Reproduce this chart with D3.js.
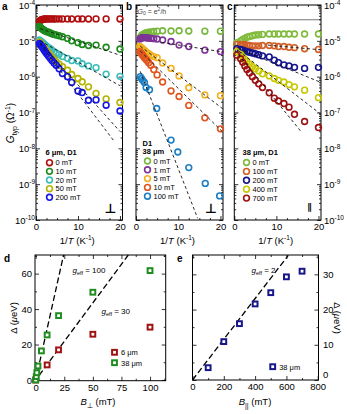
<!DOCTYPE html>
<html><head><meta charset="utf-8">
<script src="https://d3js.org/d3.v7.min.js"></script>
<style>body{margin:0;background:#fff}svg{display:block}</style>
</head><body><script>
// ---------- DATA ----------
const G0 = 3.874e-5; // e^2/h (Ω^-1)
const logExps = [-10,-9,-8,-7,-6,-5,-4];
const xTickMajor = [0,10,20];
const xTickMinor = [2.5,5,7.5,12.5,15,17.5];

// panel a : 6 µm, D1, perpendicular field
const aInvT = [0.8,1.0,1.2,1.4,1.6,1.8,2.0,2.3,2.6,3.0,3.4,3.8,4.3,4.8,5.5,6.3,7.5,8.5,10,11,12.5,14.3,16.7,20];
const a0mT = [3.55e-5,3.72e-5,3.8e-5,3.89e-5,3.98e-5,4.0e-5,4.05e-5,4.07e-5,4.1e-5,4.1e-5,4.1e-5,4.1e-5,4.08e-5,4.1e-5,4.1e-5,4.08e-5,4.1e-5,4.08e-5,4.1e-5,4.1e-5,4.08e-5,4.1e-5,4.1e-5,4.08e-5];
const a10mT = [2.51e-5,2.40e-5,2.29e-5,2.19e-5,2.09e-5,2.0e-5,1.95e-5,1.86e-5,1.80e-5,1.74e-5,1.66e-5,1.58e-5,1.51e-5,1.45e-5,1.38e-5,1.30e-5,1.17e-5,1.0e-5,8.9e-6,7.9e-6,7.4e-6,7.6e-6,6.6e-6,5.9e-6];
const a20mT = [1.05e-5,1.0e-5,9.55e-6,9.12e-6,8.71e-6,8.32e-6,7.94e-6,7.41e-6,6.92e-6,6.46e-6,6.03e-6,5.50e-6,5.01e-6,4.57e-6,4.17e-6,3.63e-6,3.24e-6,2.82e-6,2.75e-6,2.29e-6,2.0e-6,1.78e-6,1.17e-6,1.02e-6];
const a50mT = [9.33e-6,8.71e-6,8.13e-6,7.59e-6,7.08e-6,6.61e-6,6.17e-6,5.62e-6,5.13e-6,4.57e-6,3.98e-6,3.47e-6,3.02e-6,2.63e-6,2.24e-6,1.91e-6,1.51e-6,1.15e-6,8.9e-7,7.2e-7,5.2e-7,3.4e-7,2.4e-7,1.9e-7];
const a200mT = [8.51e-6,7.94e-6,7.41e-6,6.92e-6,6.46e-6,5.89e-6,5.37e-6,4.79e-6,4.27e-6,3.72e-6,3.24e-6,2.82e-6,2.40e-6,2.09e-6,1.66e-6,1.23e-6,1.0e-6,6.9e-7,4.0e-7,3.6e-7,2.2e-7,2.25e-7,1.6e-7,1.1e-7];
const aFit10 = [[1,2.19e-5],[20,3.98e-6]];
const aFit20 = [[1,1.0e-5],[20,5.6e-7]];
const aFit50 = [[1,8.7e-6],[20,2.95e-8]];
const aFit200 = [[1,8.1e-6],[18.4,1.7e-8]];

// panel b : 38 µm, D1, perpendicular field
const bInvT = [0.9,1.1,1.3,1.5,1.7,2.0,2.3,2.6,3.0,3.5,4.2,5.0,6.3,8.3,10.2,12.5,16.3,20];
const b0mT = [1.17e-5,1.29e-5,1.38e-5,1.45e-5,1.51e-5,1.58e-5,1.66e-5,1.70e-5,1.74e-5,1.78e-5,1.82e-5,1.86e-5,1.91e-5,1.88e-5,1.91e-5,1.88e-5,1.86e-5,1.86e-5];
const b1mT = [1.12e-5,1.17e-5,1.20e-5,1.23e-5,1.23e-5,1.23e-5,1.23e-5,1.20e-5,1.20e-5,1.17e-5,1.15e-5,1.12e-5,1.05e-5,9.55e-6,7.59e-6,6.92e-6,5.50e-6,5.01e-6];
const b5mT = [6.92e-6,6.61e-6,6.31e-6,6.03e-6,5.75e-6,5.37e-6,5.01e-6,4.68e-6,4.37e-6,3.98e-6,3.63e-6,3.39e-6,2.40e-6,1.70e-6,1.05e-6,4.9e-7,3.1e-7,2.95e-7];
const b10mT = [5.01e-6,4.68e-6,4.37e-6,4.07e-6,3.80e-6,3.39e-6,3.09e-6,2.82e-6,2.45e-6,2.09e-6,1.58e-6,1.12e-6,7.1e-7,4.0e-7,2.8e-7,1.58e-7,7.1e-8,3.5e-8];
const bInvT100 = [1.0,1.3,1.6,2.0,2.4,3.2,4.9,8.3,9.9,12.5,16.4,19.8];
const b100mT = [1.0e-6,8.9e-7,7.9e-7,6.9e-7,5.0e-7,4.3e-7,1.29e-7,1.7e-8,7.9e-9,2.9e-9,1.05e-9,4.7e-10];
const bFit1 = [[6,9.1e-6],[20.6,4.9e-6]];
const bFit5 = [[1,7.1e-6],[20.6,1.26e-7]];
const bFit10 = [[1,5.2e-6],[20.6,2.8e-8]];
const bFit100 = [[1,1.41e-6],[14.6,1.12e-10]];

// panel c : 38 µm, D1, parallel field
const cInvT = [0.6,1.5,2.0,2.5,3.0,3.6,4.3,5.0,5.8,6.7,8.3,9.5,10.5,11.8,13,14.3,16.7,20];
const c0mT = [8.9e-6,1.0e-5,1.10e-5,1.17e-5,1.26e-5,1.32e-5,1.38e-5,1.45e-5,1.48e-5,1.51e-5,1.55e-5,1.55e-5,1.55e-5,1.55e-5,1.55e-5,1.55e-5,1.55e-5,1.55e-5];
const c100mT = [7.94e-6,7.94e-6,7.94e-6,7.76e-6,7.59e-6,7.41e-6,7.24e-6,7.24e-6,7.24e-6,7.41e-6,7.41e-6,7.24e-6,6.92e-6,6.92e-6,6.61e-6,6.46e-6,6.03e-6,5.75e-6];
const c200mT = [6.03e-6,5.75e-6,5.50e-6,5.25e-6,5.01e-6,4.79e-6,4.57e-6,4.37e-6,4.07e-6,3.80e-6,3.55e-6,2.88e-6,2.45e-6,2.14e-6,2.0e-6,1.82e-6,1.70e-6,1.82e-6];
const c400mT = [5.01e-6,4.17e-6,3.55e-6,3.02e-6,2.63e-6,2.24e-6,1.91e-6,1.66e-6,1.45e-6,1.20e-6,1.05e-6,8.9e-7,7.9e-7,7.1e-7,6.0e-7,5.2e-7,4.2e-7,2.6e-7];
const c700mT = [3.98e-6,3.16e-6,2.51e-6,2.0e-6,1.58e-6,1.26e-6,1.0e-6,7.9e-7,6.3e-7,5.0e-7,3.55e-7,2.51e-7,2.09e-7,1.78e-7,1.41e-7,8.9e-8,5.6e-8,3.8e-8];
const cFit100 = [[8,7.6e-6],[20.6,5.6e-6]];
const cFit200 = [[1,6.0e-6],[20.6,6.9e-7]];
const cFit400 = [[1,5.25e-6],[20.6,8.9e-8]];
const cFit700 = [[1,4.17e-6],[16,2.8e-8]];

// panel d : gap vs perpendicular field
const d6B = [0,10,20,50,100];
const d6Gap = [0,8.5,17,25.8,29.8];
const d38B = [0,0.5,1,2,5,10,20,50,100];
const d38Gap = [0,1.9,4.1,7.9,16.4,25.4,36.3,49.5,61.7];
const dLine100 = [[0,0],[24.4,70.5]];
const dLine30 = [[3,2.6],[81,70.5]];
const dXTicks = [0,25,50,75,100];
const dYTicks = [0,20,40,60];

// panel e : gap vs parallel field
const eB = [100,200,300,400,500,600,700];
const eGap = [3.5,10.9,16,21.6,24.8,29.3,30.9];
const eLine2 = [[0,0],[612,35.4]];
const eXTicks = [0,200,400,600,800];
const eYTicks = [0,10,20,30];

// ---------- DRAW ----------
const FONT = "'Liberation Sans', Arial, Helvetica, sans-serif";
const svg = d3.select("body").append("svg").attr("width",347).attr("height",414)
  .style("font-family",FONT);

function cleanAxis(s){ s.select(".domain").remove(); s.selectAll("line").attr("stroke","#000").attr("stroke-width",0.8); s.selectAll("text").attr("font-family",FONT); }

const yTop = 5, yBot = 220;
function logPanel(o){
  const g = svg.append("g");
  const x = d3.scaleLinear().domain([0,20.6]).range([o.x0,o.x1]);
  const y = d3.scaleLog().domain([1e-10,1e-4]).range([yBot,yTop]);
  const major = logExps.map(e=>Math.pow(10,e));
  const minor = [];
  logExps.forEach(e=>{ if(e< -4) for(let k=2;k<10;k++) minor.push(k*Math.pow(10,e)); });

  if(o.g0){
    g.append("line").attr("x1",o.x0).attr("x2",o.x1).attr("y1",y(G0)).attr("y2",y(G0))
      .attr("stroke","#666").attr("stroke-width",0.9);
  }
  [[d3.axisLeft,o.x0],[d3.axisRight,o.x1]].forEach(([ax,pos])=>{
    g.append("g").attr("transform",`translate(${pos},0)`).call(ax(y).tickValues(major).tickSize(-4).tickFormat("")).call(cleanAxis);
    g.append("g").attr("transform",`translate(${pos},0)`).call(ax(y).tickValues(minor).tickSize(-2).tickFormat("")).call(cleanAxis);
  });
  const xb = g.append("g").attr("transform",`translate(0,${yBot})`).call(d3.axisBottom(x).tickValues(xTickMajor).tickSize(-4).tickPadding(3)).call(cleanAxis);
  xb.selectAll("text").attr("font-size",9.5).attr("fill","#000");
  g.append("g").attr("transform",`translate(0,${yBot})`).call(d3.axisBottom(x).tickValues(xTickMinor).tickSize(-2).tickFormat("")).call(cleanAxis);
  g.append("g").attr("transform",`translate(0,${yTop})`).call(d3.axisTop(x).tickValues(xTickMajor).tickSize(-4).tickFormat("")).call(cleanAxis);
  g.append("g").attr("transform",`translate(0,${yTop})`).call(d3.axisTop(x).tickValues(xTickMinor).tickSize(-2).tickFormat("")).call(cleanAxis);
  g.append("rect").attr("x",o.x0).attr("y",yTop).attr("width",o.x1-o.x0).attr("height",yBot-yTop)
    .attr("fill","none").attr("stroke","#000").attr("stroke-width",1);
  if(o.labels){
    logExps.forEach(e=>{
      const t = g.append("text").attr("x", o.labels==="left"? o.x0-1 : o.x1+3).attr("y", y(Math.pow(10,e))+3.8)
        .attr("text-anchor", o.labels==="left"?"end":"start").attr("font-size",9.5);
      t.append("tspan").text("10");
      t.append("tspan").attr("dy",-3.6).attr("font-size",6.5).text(String(e));
    });
  }
  const xt = g.append("text").attr("x",(o.x0+o.x1)/2-2).attr("y",244).attr("text-anchor","middle").attr("font-size",9.5);
  xt.append("tspan").text("1/");
  xt.append("tspan").attr("font-style","italic").text("T");
  xt.append("tspan").text(" (K");
  xt.append("tspan").attr("dy",-4).attr("font-size",6.5).text("-1");
  xt.append("tspan").attr("dy",4).text(")");
  o.series.forEach(s=>{
    const pts = s.x.map((v,i)=>[v,s.y[i]]);
    g.append("g").selectAll("circle").data(pts).join("circle")
      .attr("cx",d=>x(d[0])).attr("cy",d=>y(d[1])).attr("r",2.9)
      .attr("fill","none").attr("stroke",s.color).attr("stroke-width",1.6);
  });
  const line = d3.line().x(d=>x(d[0])).y(d=>y(d[1]));
  o.fits.forEach(f=>{
    g.append("path").attr("d",line(f)).attr("fill","none").attr("stroke","#111")
      .attr("stroke-width",0.9).attr("stroke-dasharray","3,2.6");
  });
  const L = o.legend;
  L.header.forEach((h,i)=>{
    g.append("text").attr("x",L.hx).attr("y",L.hy+i*8+2.5).attr("font-size",7.5).attr("font-weight","bold").text(h);
  });
  o.series.forEach((s,i)=>{
    const cy = L.y0 + i*L.dy;
    g.append("circle").attr("cx",L.cx).attr("cy",cy).attr("r",2.9).attr("fill","none").attr("stroke",s.color).attr("stroke-width",1.6);
    g.append("text").attr("x",L.cx+6).attr("y",cy+2.7).attr("font-size",7.5).text(s.name);
  });
  g.append("text").attr("x",o.sym[0]).attr("y",o.sym[1]).attr("text-anchor","middle")
    .attr("font-size",o.symSize).attr("font-weight","bold").attr("font-family","DejaVu Sans").text(o.symText);
  return {x,y,g};
}

logPanel({x0:36,x1:122.5,labels:"left",g0:false,
  series:[
    {name:"0 mT",x:aInvT,y:a0mT,color:"#b00e0e"},
    {name:"10 mT",x:aInvT,y:a10mT,color:"#1c8a1c"},
    {name:"20 mT",x:aInvT,y:a20mT,color:"#3dbcbc"},
    {name:"50 mT",x:aInvT,y:a50mT,color:"#b4b400"},
    {name:"200 mT",x:aInvT,y:a200mT,color:"#1616e8"}],
  fits:[aFit10,aFit20,aFit50,aFit200],
  legend:{header:["6 μm, D1"],hx:45.5,hy:152.5,cx:49.5,y0:162.7,dy:8.65},
  sym:[110.5,212.5],symText:"⊥",symSize:13});

logPanel({x0:136,x1:223,labels:null,g0:true,
  series:[
    {name:"0 mT",x:bInvT,y:b0mT,color:"#79b83e"},
    {name:"1 mT",x:bInvT,y:b1mT,color:"#7d3496"},
    {name:"5 mT",x:bInvT,y:b5mT,color:"#f2b01f"},
    {name:"10 mT",x:bInvT,y:b10mT,color:"#e0561f"},
    {name:"100 mT",x:bInvT100,y:b100mT,color:"#1d7ec4"}],
  fits:[bFit1,bFit5,bFit10,bFit100],
  legend:{header:["D1","38 μm"],hx:142.5,hy:143.5,cx:147.5,y0:161,dy:8.8},
  sym:[211,212.5],symText:"⊥",symSize:13});

logPanel({x0:234.3,x1:321,labels:"right",g0:true,
  series:[
    {name:"0 mT",x:cInvT,y:c0mT,color:"#80bb3c"},
    {name:"100 mT",x:cInvT,y:c100mT,color:"#d25f28"},
    {name:"200 mT",x:cInvT,y:c200mT,color:"#14148c"},
    {name:"400 mT",x:cInvT,y:c400mT,color:"#c8c800"},
    {name:"700 mT",x:cInvT,y:c700mT,color:"#9e1111"}],
  fits:[cFit100,cFit200,cFit400,cFit700],
  legend:{header:["38 μm, D1"],hx:242.5,hy:152.5,cx:246.5,y0:162.5,dy:8.9},
  sym:[309.5,209.5],symText:"∥",symSize:9});

{
  const t = svg.append("text").attr("x",137.5).attr("y",13.5).attr("font-size",7).attr("fill","#444");
  t.append("tspan").attr("font-style","italic").text("G");
  t.append("tspan").attr("dy",1.5).attr("font-size",5).text("0");
  t.append("tspan").attr("dy",-1.5).text(" = e");
  t.append("tspan").attr("dy",-3).attr("font-size",5).text("2");
  t.append("tspan").attr("dy",3).text("/h");
}
{
  const t = svg.append("text").attr("transform","translate(14,123) rotate(-90)").attr("text-anchor","middle").attr("font-size",10);
  t.append("tspan").attr("font-style","italic").text("G");
  t.append("tspan").attr("dy",2.5).attr("font-size",7).text("typ");
  t.append("tspan").attr("dy",-2.5).text(" (Ω");
  t.append("tspan").attr("dy",-4).attr("font-size",7).text("-1");
  t.append("tspan").attr("dy",4).text(")");
}
[["a",2,10],["b",126,10],["c",227,10],["d",4,262],["e",177,262]].forEach(([s,xx,yy])=>{
  svg.append("text").attr("x",xx).attr("y",yy).attr("font-size",10).attr("font-weight","bold").text(s);
});

// ---------- bottom panels ----------
function linPanel(o){
  const g = svg.append("g");
  const x = d3.scaleLinear().domain(o.xd).range([o.x0,o.x1]);
  const y = d3.scaleLinear().domain(o.yd).range([o.y1,o.y0]);
  const bx = g.append("g").attr("transform",`translate(0,${o.y1})`).call(d3.axisBottom(x).tickValues(o.xt).tickSize(-4).tickPadding(3.5)).call(cleanAxis);
  bx.selectAll("text").attr("font-size",9.5).attr("fill","#000");
  g.append("g").attr("transform",`translate(0,${o.y1})`).call(d3.axisBottom(x).tickValues(o.xm).tickSize(-2).tickFormat("")).call(cleanAxis);
  g.append("g").attr("transform",`translate(0,${o.y0})`).call(d3.axisTop(x).tickValues(o.xt).tickSize(-4).tickFormat("")).call(cleanAxis);
  g.append("g").attr("transform",`translate(0,${o.y0})`).call(d3.axisTop(x).tickValues(o.xm).tickSize(-2).tickFormat("")).call(cleanAxis);
  const labAx = o.ySide==="left"? d3.axisLeft : d3.axisRight;
  const othAx = o.ySide==="left"? d3.axisRight : d3.axisLeft;
  const lp = o.ySide==="left"? o.x0 : o.x1, op = o.ySide==="left"? o.x1 : o.x0;
  const ly = g.append("g").attr("transform",`translate(${lp},0)`).call(labAx(y).tickValues(o.yt).tickSize(-4).tickPadding(o.ySide==="left"?3:4.5)).call(cleanAxis);
  ly.selectAll("text").attr("font-size",9.5).attr("fill","#000");
  if(o.ySide!=="left") ly.selectAll(".tick").filter(d=>d===0).select("text").attr("dy","-0.25em");
  g.append("g").attr("transform",`translate(${lp},0)`).call(labAx(y).tickValues(o.ym).tickSize(-2).tickFormat("")).call(cleanAxis);
  g.append("g").attr("transform",`translate(${op},0)`).call(othAx(y).tickValues(o.yt).tickSize(-4).tickFormat("")).call(cleanAxis);
  g.append("g").attr("transform",`translate(${op},0)`).call(othAx(y).tickValues(o.ym).tickSize(-2).tickFormat("")).call(cleanAxis);
  g.append("rect").attr("x",o.x0).attr("y",o.y0).attr("width",o.x1-o.x0).attr("height",o.y1-o.y0)
    .attr("fill","none").attr("stroke","#000").attr("stroke-width",1);
  const line = d3.line().x(d=>x(d[0])).y(d=>y(d[1]));
  o.lines.forEach(l=>{
    g.append("path").attr("d",line(l)).attr("fill","none").attr("stroke","#000").attr("stroke-width",1.3).attr("stroke-dasharray","6,3");
  });
  o.series.forEach(s=>{
    const pts = s.x.map((v,i)=>[v,s.y[i]]);
    g.append("g").selectAll("rect").data(pts).join("rect")
      .attr("x",d=>x(d[0])-2.4).attr("y",d=>y(d[1])-2.4).attr("width",4.8).attr("height",4.8)
      .attr("fill","#fff").attr("stroke",s.color).attr("stroke-width",2);
  });
  o.series.forEach((s,i)=>{
    const cy = o.leg[1] + i*10.4;
    g.append("rect").attr("x",o.leg[0]-2.4).attr("y",cy-2.4).attr("width",4.8).attr("height",4.8)
      .attr("fill","#fff").attr("stroke",s.color).attr("stroke-width",2);
    g.append("text").attr("x",o.leg[0]+6.5).attr("y",cy+2.8).attr("font-size",7.5).text(s.name);
  });
  o.notes.forEach(n=>{
    const t = g.append("text").attr("x",n[0]).attr("y",n[1]).attr("font-size",8);
    t.append("tspan").attr("font-style","italic").text("g");
    t.append("tspan").attr("dy",2).attr("font-size",5.5).text("eff");
    t.append("tspan").attr("dy",-2).text(" = "+n[2]);
  });
  return {g,x,y};
}

linPanel({x0:35,x1:165.7,y0:255,y1:380.7,xd:[-0.6,113.7],yd:[-0.4,70.5],
  xt:dXTicks,xm:[12.5,37.5,62.5,87.5,112.5],yt:dYTicks,ym:[10,30,50,70],ySide:"left",
  lines:[dLine100,dLine30],
  series:[{name:"6 μm",x:d6B,y:d6Gap,color:"#a01212"},{name:"38 μm",x:d38B,y:d38Gap,color:"#1f8c1f"}],
  leg:[114.5,352.3],notes:[[72.5,273,"100"],[101.5,313.5,"30"]]});

linPanel({x0:192.5,x1:318.5,y0:255,y1:380,xd:[0,805],yd:[0,35.5],
  xt:eXTicks,xm:[100,300,500,700],yt:eYTicks,ym:[5,15,25,35],ySide:"right",
  lines:[eLine2],
  series:[{name:"38 μm",x:eB,y:eGap,color:"#16168a"}],
  leg:[272.7,366.7],notes:[[251.5,273,"2"]]});

function gapTitle(tr){
  const t = svg.append("text").attr("transform",tr).attr("text-anchor","middle").attr("font-size",9.5);
  t.append("tspan").text("Δ (");
  t.append("tspan").attr("font-style","italic").text("μ");
  t.append("tspan").text("eV)");
}
gapTitle("translate(17,318) rotate(-90)");
gapTitle("translate(334,318) rotate(90)");
function fieldTitle(xc, sub){
  const t = svg.append("text").attr("x",xc).attr("y",405).attr("text-anchor","middle").attr("font-size",9.5);
  t.append("tspan").attr("font-style","italic").text("B");
  t.append("tspan").attr("dy",2.5).attr("font-size",7).text(sub);
  t.append("tspan").attr("dy",-2.5).text(" (mT)");
}
fieldTitle(98,"⊥");
fieldTitle(255,"||");
</script></body></html>
